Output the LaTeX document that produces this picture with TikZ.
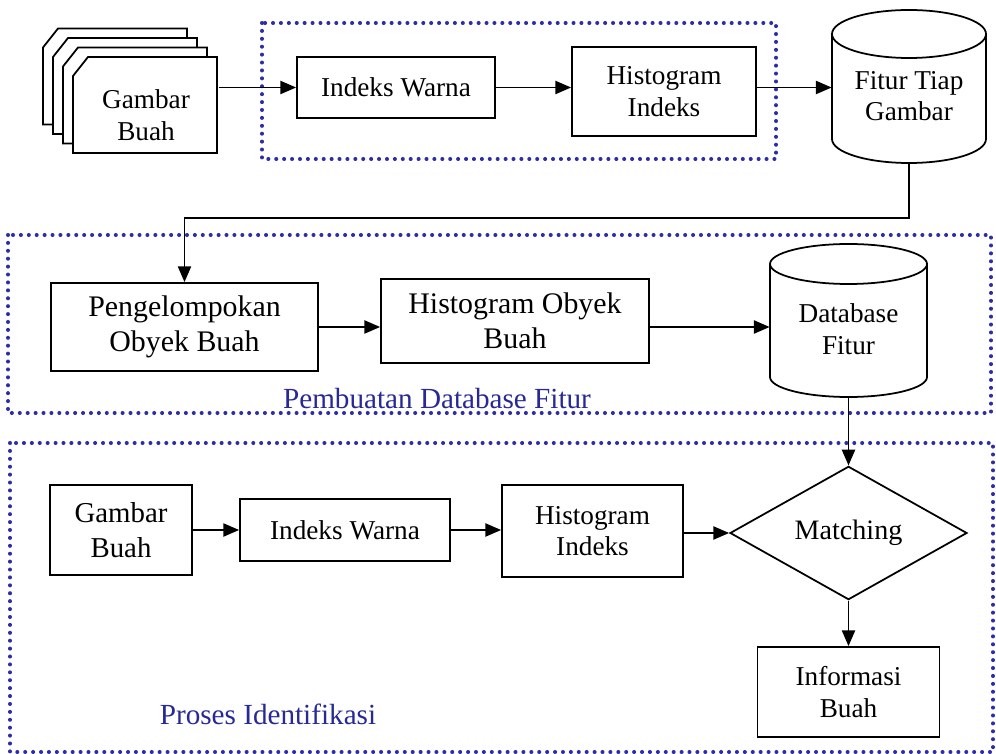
\documentclass[tikz,border=0pt]{standalone}
\usepackage{fontspec}
\setmainfont{Liberation Serif}
\usepackage{tikz}
\usetikzlibrary{shapes,arrows.meta,positioning,backgrounds,calc}

\definecolor{dotblue}{RGB}{45,45,165}
\definecolor{lblblue}{RGB}{40,40,150}

% silinder database di sekitar node: #1 node, #2 setengah lebar, #3 naik, #4 turun, #5 ry
\newcommand{\dbcyl}[5]{%
  \draw[line width=1pt] ($(#1.center)+(-#2,#3)$) -- ($(#1.center)+(-#2,-#4)$)
    arc[start angle=180, end angle=360, x radius=#2, y radius=#5] -- ($(#1.center)+(#2,#3)$);
  \draw[line width=1pt] ($(#1.center)+(0,#3)$) ellipse[x radius=#2, y radius=#5];
}

\begin{document}
\begin{tikzpicture}[
    box/.style={rectangle, draw, line width=1pt, align=center, inner sep=0pt, font=\fontsize{15.5}{18}\selectfont},
    bigbox/.style={box, font=\fontsize{17}{19.8}\selectfont},
    dbnode/.style={rectangle, align=center, inner sep=0pt, font=\fontsize{15.5}{18}\selectfont},
    page/.style={draw, fill=white, line width=1pt},
    grup/.style={draw=dotblue, line width=2.3pt, line cap=round, dash pattern=on 0pt off 4.5pt},
    grplabel/.style={text=lblblue, font=\fontsize{16.6}{19}\selectfont},
    arrow/.style={-{Triangle[length=9pt,width=7.5pt]}, line width=1pt}
]
\useasboundingbox (0,0) rectangle (19.92,-15.08);

% Fitur tiap gambar
\node[box, draw=none, minimum width=2.88cm, minimum height=1.52cm] (gbr1) at (2.92,-2.30) {Gambar\\Buah};
\begin{scope}[on background layer]
\foreach \i in {3,2,1,0}
  \draw[page] ($(gbr1)+(-1.46-0.2*\i,-0.76+0.19*\i)$) -- ++(0,1.54) -- ++(0.3,0.38) -- ++(2.58,0) -- ++(0,-1.92) -- cycle;
\end{scope}
\node[box, minimum width=3.96cm, minimum height=1.22cm] (idx1) at (7.92,-1.75) {Indeks Warna};
\node[box, minimum width=3.68cm, minimum height=1.78cm] (hist1) at (13.28,-1.83) {Histogram\\Indeks};
\node[dbnode, minimum width=3.08cm, minimum height=2.68cm] (fitur) at (18.18,-1.92) {Fitur Tiap\\Gambar};
\dbcyl{fitur}{1.54}{1.24}{0.86}{0.48}
\draw[grup] (5.24,-0.46) rectangle (15.52,-3.18);

\draw[arrow] (gbr1.east |- idx1.west) -- (idx1.west);
\draw[arrow] (idx1.east) -- (idx1.east -| hist1.west);
\draw[arrow] (hist1.east |- idx1.east) -- (idx1.east -| fitur.west);

% Pembuatan database fitur
\node[bigbox, minimum width=5.34cm, minimum height=1.76cm] (grp) at (3.69,-6.54) {Pengelompokan\\Obyek Buah};
\node[bigbox, minimum width=5.36cm, minimum height=1.68cm] (histob) at (10.30,-6.42) {Histogram Obyek\\Buah};
\node[dbnode, minimum width=3.14cm, minimum height=2.72cm] (dbf) at (16.97,-6.58) {Database\\Fitur};
\dbcyl{dbf}{1.57}{1.3}{0.96}{0.4}
\draw[grup] (0.16,-4.70) rectangle (19.82,-8.26);
\node[grplabel] (lbl1) at (8.74,-7.98) {Pembuatan Database Fitur};

\draw[arrow] (fitur.south) -- ++(0,-1.1) -| (grp.north);
\draw[arrow] (grp.east) -- (grp.east -| histob.west);
\draw[arrow] (histob.east |- grp.east) -- (grp.east -| dbf.west);

% Proses identifikasi
\node[box, font=\fontsize{16.4}{19.8}\selectfont, minimum width=2.84cm, minimum height=1.8cm] (gbr2) at (2.42,-10.60) {Gambar\\Buah};
\node[box, minimum width=4.20cm, minimum height=1.24cm] (idx2) at (6.90,-10.60) {Indeks Warna};
\node[box, minimum width=3.62cm, minimum height=1.84cm] (hist2) at (11.85,-10.62) {Histogram\\Indeks};
\node[diamond, draw, line width=1pt, inner sep=0pt, minimum width=4.74cm, minimum height=2.6cm, font=\fontsize{16}{19}\selectfont] (match) at (16.97,-10.66) {Matching};
\node[box, minimum width=3.64cm, minimum height=1.8cm] (info) at (16.97,-13.84) {Informasi\\Buah};
\draw[grup] (0.20,-8.86) rectangle (19.86,-15.04);
\node[grplabel] (lbl2) at (5.36,-14.28) {Proses Identifikasi};

\draw[arrow] (gbr2.east) -- (gbr2.east -| idx2.west);
\draw[arrow] (idx2.east) -- (idx2.east -| hist2.west);
\draw[arrow] (hist2.east |- match.west) -- (match.west);
\draw[arrow] (dbf.south) -- (match.north);
\draw[arrow] (match.south) -- (info.north);

\end{tikzpicture}
\end{document}
